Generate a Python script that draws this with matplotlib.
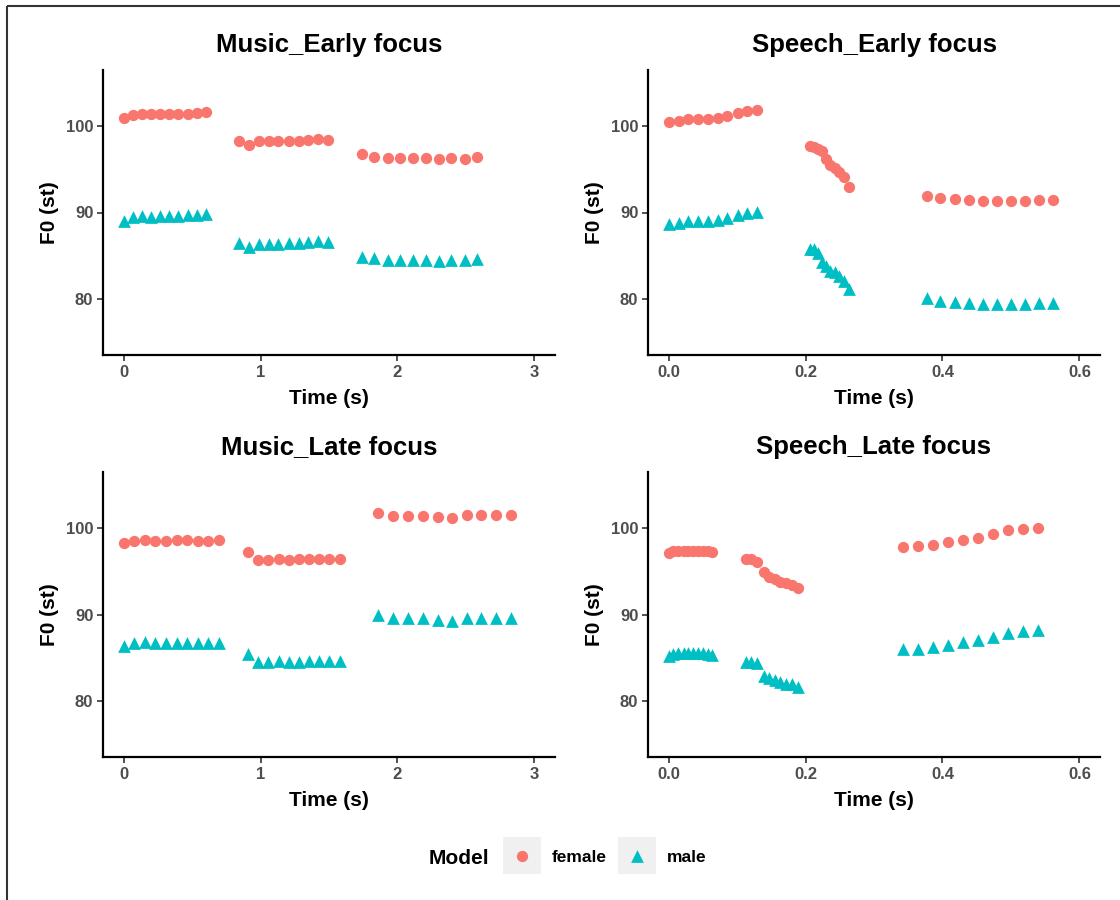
import matplotlib
matplotlib.use("Agg")
import matplotlib.pyplot as plt
from matplotlib.patches import Rectangle

plt.rcParams["font.family"] = ["Liberation Sans", "DejaVu Sans"]
plt.rcParams["font.weight"] = "bold"

# ========== DATA ==========
FEMALE_COLOR = "#F8766D"
MALE_COLOR = "#00BFC4"

# Music_Early focus
me_time = [0.00, 0.067, 0.133, 0.20, 0.267, 0.333, 0.40, 0.467, 0.533, 0.60,
           0.845, 0.917, 0.99, 1.06, 1.13, 1.21, 1.28, 1.35, 1.42, 1.49,
           1.74, 1.83, 1.93, 2.02, 2.11, 2.21, 2.30, 2.39, 2.49, 2.58]
me_female = [100.89, 101.34, 101.46, 101.38, 101.38, 101.46, 101.38, 101.46, 101.57, 101.64,
             98.28, 97.82, 98.28, 98.28, 98.28, 98.31, 98.31, 98.39, 98.51, 98.39,
             96.74, 96.47, 96.36, 96.36, 96.28, 96.28, 96.17, 96.28, 96.24, 96.47]
me_male = [88.97, 89.46, 89.54, 89.50, 89.54, 89.58, 89.58, 89.66, 89.73, 89.77,
           86.47, 85.98, 86.40, 86.40, 86.40, 86.47, 86.51, 86.59, 86.67, 86.55,
           84.86, 84.68, 84.52, 84.48, 84.45, 84.45, 84.37, 84.45, 84.45, 84.60]

# Speech_Early focus
se_time = [0.000, 0.015, 0.029, 0.043, 0.058, 0.072, 0.086, 0.101, 0.115, 0.129,
           0.207, 0.212, 0.218, 0.224, 0.230, 0.236, 0.243, 0.249, 0.256, 0.263,
           0.377, 0.397, 0.418, 0.438, 0.459, 0.479, 0.500, 0.520, 0.541, 0.561]
se_female = [100.43, 100.57, 100.77, 100.80, 100.84, 100.92, 101.18, 101.53, 101.72, 101.84,
             97.70, 97.60, 97.40, 97.10, 96.20, 95.50, 95.10, 94.70, 94.10, 93.00,
             91.90, 91.68, 91.53, 91.42, 91.34, 91.34, 91.34, 91.38, 91.42, 91.42]
se_male = [88.62, 88.81, 88.97, 89.00, 89.00, 89.08, 89.31, 89.66, 89.89, 90.03,
           85.83, 85.75, 85.29, 84.22, 83.83, 83.25, 83.07, 82.68, 82.10, 81.15,
           80.08, 79.77, 79.62, 79.50, 79.46, 79.46, 79.46, 79.46, 79.50, 79.50]

# Music_Late focus
ml_time = [0.00, 0.077, 0.155, 0.232, 0.31, 0.387, 0.464, 0.54, 0.62, 0.695,
           0.91, 0.983, 1.058, 1.133, 1.208, 1.28, 1.356, 1.43, 1.503, 1.578,
           1.861, 1.97, 2.079, 2.184, 2.293, 2.399, 2.505, 2.612, 2.718, 2.83]
ml_female = [98.24, 98.54, 98.59, 98.54, 98.54, 98.59, 98.59, 98.54, 98.54, 98.59,
             97.28, 96.32, 96.32, 96.40, 96.32, 96.40, 96.40, 96.40, 96.40, 96.40,
             101.76, 101.46, 101.46, 101.46, 101.30, 101.18, 101.53, 101.49, 101.53, 101.53]
ml_male = [86.36, 86.75, 86.82, 86.75, 86.75, 86.75, 86.75, 86.75, 86.75, 86.75,
           85.40, 84.45, 84.52, 84.56, 84.52, 84.52, 84.56, 84.56, 84.56, 84.56,
           89.92, 89.54, 89.54, 89.54, 89.34, 89.28, 89.62, 89.57, 89.62, 89.62]

# Speech_Late focus
sl_time = [0.000, 0.007, 0.014, 0.022, 0.029, 0.036, 0.043, 0.050, 0.057, 0.064,
           0.113, 0.121, 0.129, 0.139, 0.146, 0.155, 0.163, 0.171, 0.180, 0.189,
           0.343, 0.364, 0.386, 0.408, 0.430, 0.452, 0.474, 0.496, 0.518, 0.540]
sl_female = [97.10, 97.30, 97.35, 97.40, 97.40, 97.40, 97.40, 97.35, 97.30, 97.20,
             96.40, 96.43, 96.10, 94.90, 94.40, 94.10, 93.80, 93.60, 93.40, 93.10,
             97.85, 97.90, 98.00, 98.35, 98.60, 98.90, 99.30, 99.80, 99.90, 100.03]
sl_male = [85.20, 85.45, 85.55, 85.60, 85.60, 85.60, 85.60, 85.55, 85.45, 85.30,
           84.50, 84.50, 84.40, 82.90, 82.60, 82.40, 82.20, 82.00, 81.90, 81.60,
           86.00, 86.00, 86.20, 86.50, 86.80, 87.05, 87.40, 87.90, 88.10, 88.20]

titles = ["Music_Early focus", "Speech_Early focus", "Music_Late focus", "Speech_Late focus"]
music_ticks = [0, 1, 2, 3]
music_labels = ["0", "1", "2", "3"]
speech_ticks = [0.0, 0.2, 0.4, 0.6]
speech_labels = ["0.0", "0.2", "0.4", "0.6"]
y_ticks = [80, 90, 100]
legend_labels = ["female", "male"]
# ===================================================

panels = [
    (me_time, me_female, me_male, music_ticks, music_labels, (-0.15, 3.15)),
    (se_time, se_female, se_male, speech_ticks, speech_labels, (-0.03, 0.63)),
    (ml_time, ml_female, ml_male, music_ticks, music_labels, (-0.15, 3.15)),
    (sl_time, sl_female, sl_male, speech_ticks, speech_labels, (-0.03, 0.63)),
]

W, H = 1120, 900
fig = plt.figure(figsize=(W / 100, H / 100), dpi=100)

# background pixel-space axes for border and legend
bg = fig.add_axes([0, 0, 1, 1], zorder=-1)
bg.set_xlim(0, W)
bg.set_ylim(H, 0)
bg.axis("off")

# panel boxes in pixels: left, top, right, bottom
boxes = [(103, 70, 555, 355), (648, 70, 1100, 355),
         (103, 472, 555, 757), (648, 472, 1100, 757)]

for (t, fem, mal, xt, xl, xlim), title, (l, tp, r, b) in zip(panels, titles, boxes):
    ax = fig.add_axes([l / W, 1 - b / H, (r - l) / W, (b - tp) / H])
    ax.scatter(t, fem, s=66, marker="o", color=FEMALE_COLOR, linewidths=0, zorder=3)
    ax.scatter(t, mal, s=84, marker="^", color=MALE_COLOR, linewidths=0, zorder=3)
    ax.set_xlim(*xlim)
    ax.set_ylim(73.5, 106.5)
    ax.set_xticks(xt)
    ax.set_xticklabels(xl)
    ax.set_yticks(y_ticks)
    for s in ["top", "right"]:
        ax.spines[s].set_visible(False)
    for s in ["left", "bottom"]:
        ax.spines[s].set_linewidth(1.6)
        ax.spines[s].set_color("black")
    ax.tick_params(length=4, width=1.2, color="#333333", labelcolor="#4D4D4D",
                   labelsize=12, pad=3)
    for lab in ax.get_xticklabels() + ax.get_yticklabels():
        lab.set_fontweight("bold")
    ax.set_title(title, fontsize=18.5, fontweight="bold", pad=13)
    ax.set_xlabel("Time (s)", fontsize=15, fontweight="bold", labelpad=7)
    ax.set_ylabel("F0 (st)", fontsize=15, fontweight="bold", labelpad=5)

# frame lines along top and left of the screenshot
bg.plot([7, W], [6, 6], color="#333333", lw=1.5, solid_capstyle="butt")
bg.plot([7, 7], [6, H], color="#333333", lw=1.5, solid_capstyle="butt")

# legend
bg.text(429, 858, "Model", fontsize=15, fontweight="bold", va="center", ha="left")
key_x = [503, 618]
for kx, lab, mk, col, sz in zip(key_x, legend_labels, ["o", "^"],
                                [FEMALE_COLOR, MALE_COLOR], [66, 84]):
    bg.add_patch(Rectangle((kx, 837), 38, 37, facecolor="#F0F0F0", edgecolor="none"))
    bg.scatter([kx + 19], [855.5], s=sz, marker=mk, color=col, linewidths=0)
    bg.text(kx + 49, 858, lab, fontsize=12.5, fontweight="bold", va="center", ha="left")

fig.savefig("out.png", dpi=100)
